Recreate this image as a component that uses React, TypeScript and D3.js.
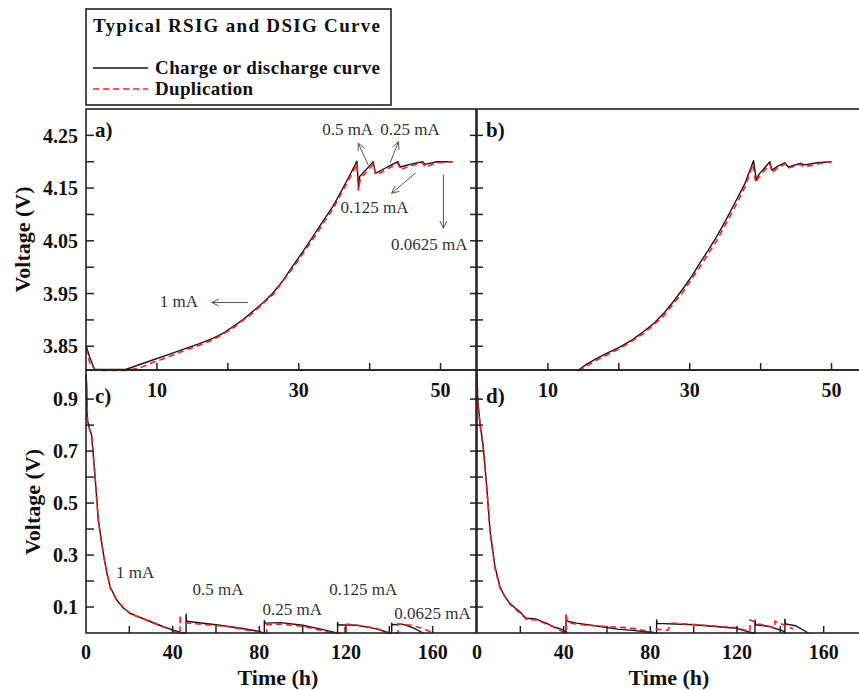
import React from 'react';
import * as d3 from 'd3';

type P = [number, number];

// ---------- data (time h, voltage V) ----------
const rsigA: P[] = [[0,3.852],[0.5,3.83],[1.2,3.806],[3,3.806],[5.6,3.806],[7.5,3.815],[9.4,3.824],[12,3.836],[14.1,3.846],[16,3.855],[17.9,3.865],[19.5,3.876],[20.7,3.887],[22.2,3.901],[23.5,3.916],[25,3.933],[26.3,3.95],[27.8,3.975],[29.1,4.001],[30.6,4.03],[32.0,4.058],[33.4,4.087],[34.8,4.115],[36,4.144],[37.1,4.172],[38.2,4.201],[38.45,4.15],[38.6,4.172],[39.5,4.185],[40.5,4.2],[40.8,4.178],[42.5,4.19],[44.0,4.2],[44.3,4.19],[46,4.196],[47.5,4.2],[47.8,4.195],[49.5,4.2],[51.7,4.2]];
const dupA: P[] = [[0,3.846],[0.6,3.815],[1.5,3.804],[6,3.804],[8,3.811],[9.4,3.819],[12,3.832],[14.1,3.843],[16,3.852],[17.9,3.862],[20.7,3.884],[23.5,3.913],[26.3,3.947],[29.1,3.997],[32.0,4.053],[34.8,4.11],[37.1,4.167],[38.2,4.195],[38.4,4.145],[38.7,4.168],[40.5,4.195],[40.9,4.175],[42.5,4.186],[44,4.197],[44.3,4.185],[46,4.193],[47.5,4.198],[47.8,4.19],[49.5,4.198],[51.7,4.2]];
const rsigB: P[] = [[14.3,3.805],[15.5,3.816],[16.9,3.827],[18.5,3.838],[20.2,3.849],[22,3.863],[23.5,3.878],[25,3.894],[26.3,3.912],[27.7,3.935],[29.1,3.96],[30.3,3.983],[31.4,4.007],[32.6,4.032],[33.8,4.058],[35,4.087],[36.1,4.115],[37.8,4.159],[39.0,4.202],[39.4,4.165],[39.7,4.175],[41.3,4.2],[41.6,4.184],[42.5,4.192],[43.4,4.198],[43.9,4.19],[45.6,4.197],[46.2,4.194],[48,4.198],[50,4.2]];
const dupB: P[] = [[14.3,3.803],[16.9,3.824],[20.2,3.846],[23.5,3.874],[26.3,3.907],[29.1,3.954],[31.4,4.0],[33.8,4.05],[36.1,4.107],[37.8,4.152],[38.9,4.195],[39.3,4.16],[39.7,4.17],[41.3,4.195],[41.6,4.18],[43.4,4.196],[43.9,4.188],[45.6,4.195],[46.2,4.19],[48,4.196],[50,4.2]];
const dsigC: P[] = [[0,0.995],[0.3,0.96],[0.6,0.82],[1.5,0.79],[2.6,0.762],[4.2,0.601],[5.7,0.435],[8.0,0.306],[9.5,0.235],[11.1,0.178],[14.2,0.127],[17,0.098],[20.3,0.076],[24,0.063],[28,0.05],[35.7,0.024],[40,0.012],[43.4,0.003],[44,0],[46.2,0],[46.2,0.073],[46.4,0.045],[60,0.032],[70,0.02],[80.3,0.006],[81.5,0],[82.3,0],[82.3,0.048],[82.6,0.038],[90,0.04],[100,0.03],[110,0.012],[115.7,0],[116.1,0],[116.1,0.041],[116.4,0.032],[125,0.03],[133,0.018],[140.3,0],[141.1,0],[141.1,0.038],[141.4,0.032],[146,0.034],[151,0.02],[155.7,0]];
const dupC: P[] = [[0,0.985],[0.4,0.9],[0.8,0.81],[1.6,0.785],[2.8,0.745],[4.3,0.585],[5.8,0.42],[8.1,0.298],[11.2,0.172],[14.3,0.123],[20.3,0.074],[28,0.049],[35.7,0.023],[41,0.006],[43.4,0],[43.4,0.07],[43.6,0.04],[50,0.036],[65,0.025],[80,0.003],[83.4,0],[83.4,0.032],[90,0.034],[100,0.026],[114,0],[119.5,0],[119.5,0.035],[125,0.03],[133,0.02],[140,0],[144,0],[144,0.035],[150,0.03],[156,0.015],[160.3,0]];
const dsigD: P[] = [[0,1.0],[0.3,0.9],[1.4,0.806],[2.9,0.717],[4.5,0.563],[6.0,0.396],[8.3,0.255],[10.6,0.178],[12.8,0.14],[15.2,0.114],[17.5,0.097],[19.8,0.082],[21.5,0.066],[22.9,0.056],[25,0.056],[27.5,0.053],[29.5,0.046],[32.2,0.037],[36,0.022],[39.8,0.012],[41.1,0],[41.1,0.069],[41.5,0.045],[46,0.038],[56,0.026],[65,0.015],[72,0.01],[79.8,0.003],[82.9,0],[82.9,0.05],[83.2,0.037],[100,0.032],[119.8,0.018],[126,0.003],[128.3,0],[128.3,0.05],[128.6,0.032],[135,0.025],[141.4,0.007],[142.1,0],[142.1,0.053],[142.4,0.035],[147,0.028],[152.9,0]];
const dupD: P[] = [[0,0.99],[0.4,0.88],[1.5,0.795],[3.0,0.7],[4.6,0.545],[6.1,0.38],[8.4,0.245],[10.7,0.17],[15.3,0.11],[19.8,0.076],[22.9,0.052],[27.5,0.05],[32.2,0.034],[36,0.02],[39.5,0.005],[41.2,0],[41.2,0.075],[41.5,0.04],[50,0.03],[60,0.025],[70,0.02],[80,0.005],[82.2,0],[82.2,0.015],[88,0.01],[90,0.038],[100,0.033],[120,0.02],[126,0.005],[126,0.05],[130,0.035],[137.5,0.02],[137.5,0.045],[142,0.03],[146,0.015]];

// ---------- ticks ----------
const chargeYTicks = [3.85, 3.9, 3.95, 4.0, 4.05, 4.1, 4.15, 4.2, 4.25];
const chargeYLabels = [3.85, 3.95, 4.05, 4.15, 4.25];
const chargeXTicks = [10, 20, 30, 40, 50];
const chargeXLabels = [10, 30, 50];
const dischargeYTicks = [0.1, 0.2, 0.3, 0.4, 0.5, 0.6, 0.7, 0.8, 0.9];
const dischargeYLabels = [0.1, 0.3, 0.5, 0.7, 0.9];
const dischargeXTicks = [20, 40, 60, 80, 100, 120, 140, 160];
const dischargeXLabels = [0, 40, 80, 120, 160];

// ---------- annotations ----------
const annotA: { text: string; t: number; v: number }[] = [
  { text: '0.5 mA', t: 33.3, v: 4.251 },
  { text: '0.25 mA', t: 41.5, v: 4.251 },
  { text: '0.125 mA', t: 35.9, v: 4.103 },
  { text: '0.0625 mA', t: 43.0, v: 4.033 },
  { text: '1 mA', t: 10.4, v: 3.924 },
];
const arrowsA: { t1: number; v1: number; t2: number; v2: number }[] = [
  { t1: 39.8, v1: 4.194, t2: 38.4, v2: 4.235 },
  { t1: 42.9, v1: 4.198, t2: 44.05, v2: 4.238 },
  { t1: 46.5, v1: 4.179, t2: 43.1, v2: 4.14 },
  { t1: 50.4, v1: 4.175, t2: 50.4, v2: 4.074 },
  { t1: 22.85, v1: 3.933, t2: 17.73, v2: 3.933 },
];
const annotC: { text: string; t: number; v: number }[] = [
  { text: '1 mA', t: 13.85, v: 0.212 },
  { text: '0.5 mA', t: 49.2, v: 0.146 },
  { text: '0.25 mA', t: 81.5, v: 0.069 },
  { text: '0.125 mA', t: 112.3, v: 0.146 },
  { text: '0.0625 mA', t: 142.3, v: 0.053 },
];

const SERIF = "'Liberation Serif', 'Times New Roman', serif";
const BLACK = '#151515';
const RED = '#ff1f1f';

type PanelProps = {
  x0: number; x1: number; y0: number; y1: number;
  xDomain: [number, number]; yDomain: [number, number];
  solid: P[]; dup: P[];
  xTicks: number[]; xLabels: number[]; xLabelY: number; xFmt: (d: number) => string;
  yTicks: number[]; yLabels?: number[]; yFmt: (d: number) => string;
  leftCross: boolean; letter: string; letterY: number;
  annots?: { text: string; t: number; v: number }[];
  arrows?: { t1: number; v1: number; t2: number; v2: number }[];
};

function Arrow({ x1, y1, x2, y2 }: { x1: number; y1: number; x2: number; y2: number }) {
  const ang = Math.atan2(y2 - y1, x2 - x1);
  const L = 8, a = 0.45;
  const h1 = [x2 - L * Math.cos(ang - a), y2 - L * Math.sin(ang - a)];
  const h2 = [x2 - L * Math.cos(ang + a), y2 - L * Math.sin(ang + a)];
  return (
    <g stroke="#555" strokeWidth={1} fill="none">
      <line x1={x1} y1={y1} x2={x2} y2={y2} />
      <polyline points={`${h1[0]},${h1[1]} ${x2},${y2} ${h2[0]},${h2[1]}`} />
    </g>
  );
}

function Panel(p: PanelProps) {
  const x = d3.scaleLinear().domain(p.xDomain).range([p.x0, p.x1]);
  const y = d3.scaleLinear().domain(p.yDomain).range([p.y1, p.y0]);
  const line = d3.line<P>().x(d => x(d[0])).y(d => y(d[1]));
  const clipId = 'clip' + p.letter.replace(')', '');
  return (
    <g>
      <defs>
        <clipPath id={clipId}>
          <rect x={p.x0 - 2} y={p.y0 - 4} width={p.x1 - p.x0 + 4} height={p.y1 - p.y0 + 6} />
        </clipPath>
      </defs>
      <g clipPath={`url(#${clipId})`}>
        <path d={line(p.solid) || ''} fill="none" stroke={BLACK} strokeWidth={1.4} strokeLinejoin="round" />
        <path d={line(p.dup) || ''} fill="none" stroke={RED} strokeWidth={1.6} strokeDasharray="6,4" />
      </g>
      <rect x={p.x0} y={p.y0} width={p.x1 - p.x0} height={p.y1 - p.y0} fill="none" stroke="#222" strokeWidth={1.6} />
      {p.yTicks.map(v => (
        <line key={'yt' + v} x1={p.leftCross ? p.x0 - 7 : p.x0} x2={p.x0 + (p.leftCross ? 6 : 8)} y1={y(v)} y2={y(v)} stroke="#222" strokeWidth={1.5} />
      ))}
      {p.xTicks.map(t => (
        <line key={'xt' + t} x1={x(t)} x2={x(t)} y1={p.y1} y2={p.y1 - 7} stroke="#222" strokeWidth={1.5} />
      ))}
      {(p.yLabels || []).map(v => (
        <text key={'yl' + v} x={p.x0 - 8} y={y(v)} dy="0.36em" textAnchor="end" fontFamily={SERIF} fontWeight="bold" fontSize={20} fill="#111">{p.yFmt(v)}</text>
      ))}
      {p.xLabels.map(t => (
        <text key={'xl' + t} x={x(t)} y={p.xLabelY} textAnchor="middle" fontFamily={SERIF} fontWeight="bold" fontSize={20} fill="#111">{p.xFmt(t)}</text>
      ))}
      <text x={p.x0 + 9} y={p.letterY} fontFamily={SERIF} fontWeight="bold" fontSize={21} fill="#111">{p.letter}</text>
      {(p.annots || []).map(a => (
        <text key={a.text} x={x(a.t)} y={y(a.v)} fontFamily={SERIF} fontSize={17} fill="#333">{a.text}</text>
      ))}
      {(p.arrows || []).map((a, i) => (
        <Arrow key={i} x1={x(a.t1)} y1={y(a.v1)} x2={x(a.t2)} y2={y(a.v2)} />
      ))}
    </g>
  );
}

export default function App() {
  const f2 = (d: number) => d.toFixed(2);
  const f1 = (d: number) => (d === 0 ? '0' : d.toFixed(1));
  const f0 = (d: number) => String(d);
  return (
    <svg width={859} height={690} style={{ position: 'absolute', left: 0, top: 0, background: '#fff' }}>
      <rect x={0} y={0} width={859} height={690} fill="#fff" />
      {/* legend */}
      <rect x={86} y={9} width={305} height={96} fill="none" stroke="#222" strokeWidth={1.6} />
      <text x={93} y={32} fontFamily={SERIF} fontWeight="bold" fontSize={19} textLength={287} lengthAdjust="spacing" fill="#111">Typical RSIG and DSIG Curve</text>
      <line x1={93} x2={148} y1={68} y2={68} stroke={BLACK} strokeWidth={1.5} />
      <text x={155} y={74} fontFamily={SERIF} fontWeight="bold" fontSize={19} textLength={225} lengthAdjust="spacing" fill="#111">Charge or discharge curve</text>
      <line x1={93} x2={148} y1={89} y2={89} stroke={RED} strokeWidth={1.5} strokeDasharray="6,4" />
      <text x={155} y={95} fontFamily={SERIF} fontWeight="bold" fontSize={19} textLength={98} lengthAdjust="spacing" fill="#111">Duplication</text>

      <Panel x0={86} x1={476} y0={109} y1={370} xDomain={[0, 55]} yDomain={[3.805, 4.3]}
        solid={rsigA} dup={dupA} xTicks={chargeXTicks} xLabels={chargeXLabels} xLabelY={397} xFmt={f0}
        yTicks={chargeYTicks} yLabels={chargeYLabels} yFmt={f2} leftCross={false} letter="a)" letterY={137}
        annots={annotA} arrows={arrowsA} />
      <Panel x0={477} x1={867} y0={109} y1={370} xDomain={[0, 55]} yDomain={[3.805, 4.3]}
        solid={rsigB} dup={dupB} xTicks={chargeXTicks} xLabels={chargeXLabels} xLabelY={397} xFmt={f0}
        yTicks={chargeYTicks} yFmt={f2} leftCross={true} letter="b)" letterY={137} />
      <Panel x0={86} x1={476} y0={370} y1={633} xDomain={[0, 180]} yDomain={[0, 1.012]}
        solid={dsigC} dup={dupC} xTicks={dischargeXTicks} xLabels={dischargeXLabels} xLabelY={659} xFmt={f0}
        yTicks={dischargeYTicks} yLabels={dischargeYLabels} yFmt={f1} leftCross={false} letter="c)" letterY={403}
        annots={annotC} />
      <Panel x0={477} x1={867} y0={370} y1={633} xDomain={[0, 180]} yDomain={[0, 1.012]}
        solid={dsigD} dup={dupD} xTicks={dischargeXTicks} xLabels={dischargeXLabels} xLabelY={659} xFmt={f0}
        yTicks={dischargeYTicks} yFmt={f1} leftCross={true} letter="d)" letterY={403} />

      <text transform="translate(30,239.5) rotate(-90)" textAnchor="middle" fontFamily={SERIF} fontWeight="bold" fontSize={22} fill="#111">Voltage (V)</text>
      <text transform="translate(40,502) rotate(-90)" textAnchor="middle" fontFamily={SERIF} fontWeight="bold" fontSize={22} fill="#111">Voltage (V)</text>
      <text x={278} y={685} textAnchor="middle" fontFamily={SERIF} fontWeight="bold" fontSize={22} fill="#111">Time (h)</text>
      <text x={669} y={685} textAnchor="middle" fontFamily={SERIF} fontWeight="bold" fontSize={22} fill="#111">Time (h)</text>
    </svg>
  );
}
